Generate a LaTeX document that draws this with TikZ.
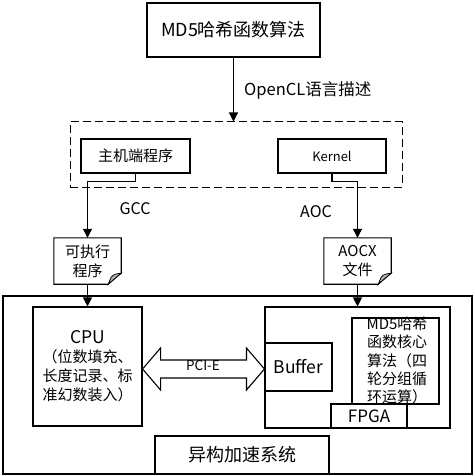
\documentclass[tikz,border=0pt]{standalone}
\usepackage{fontspec}
\setmainfont{Noto Sans CJK SC}
\usetikzlibrary{calc,arrows.meta}
\newcommand{\fsz}[2]{\fontsize{#1}{#2}\selectfont}
\begin{document}
\begin{tikzpicture}[x=1pt,y=-1pt,
  box/.style={draw, line width=1.1pt, inner sep=0pt, align=center},
  conn/.style={line width=1.1pt, -{Triangle[length=9pt,width=9pt]}},
  lbl/.style={inner sep=0pt},
  docline/.style={line width=1.1pt},
  fold/.style={line width=0.8pt, fill=gray!55}]
\useasboundingbox (0,0) rectangle (474,476);
% top
\node[box, minimum width=173pt, minimum height=54pt, font=\fsz{18}{22}] (title) at (233.5,30) {MD5哈希函数算法};
\node[draw, line width=1pt, dash pattern=on 8pt off 4pt, minimum width=332pt, minimum height=65pt, inner sep=0pt] (group) at (236,154.5) {};
\node[box, minimum width=109pt, minimum height=34pt, font=\fsz{15}{18}] (host) at (135.5,156) {主机端程序};
\node[box, minimum width=108pt, minimum height=34pt, font=\fsz{13}{15}] (kernel) at (332,156) {Kernel};
\draw[conn] (title.south) -- (title.south |- group.north);
\node[lbl, anchor=west, font=\fsz{16.5}{19}] (opencl) at (244,90) {OpenCL语言描述};
% documents
\node[lbl, minimum width=67pt, minimum height=46pt, align=center, font=\fsz{15}{19}] (doc1) at (87.5,261) {可执行\\程序};
\node[lbl, minimum width=67pt, minimum height=46pt, align=center, font=\fsz{15}{19}] (doc2) at (357.5,261) {AOCX\\文件};
\foreach \d in {doc1,doc2}{
  \draw[docline] (\d.north west) -- (\d.north east) -- ($(\d.south east)+(0,-11)$)
     .. controls ($(\d.south east)+(-5,-7)$) .. ($(\d.south east)+(-13,0)$) -- (\d.south west) -- cycle;
  \draw[fold] ($(\d.south east)+(0,-11)$) .. controls ($(\d.south east)+(-7,-10)$) .. ($(\d.south east)+(-10,-7)$)
     .. controls ($(\d.south east)+(-12,-3)$) .. ($(\d.south east)+(-13,0)$)
     .. controls ($(\d.south east)+(-5,-7)$) .. cycle;
}
\draw[conn] (host.south) -- ++(0,8) -| (doc1.north);
\draw[conn] (kernel.south) -- ++(0,8) -| (doc2.north);
\node[lbl, font=\fsz{16}{18}] (gcc) at (135,209) {GCC};
\node[lbl, font=\fsz{16}{18}] (aoc) at (316,212) {AOC};
% system
\node[box, minimum width=469pt, minimum height=178pt] (sys) at (237.5,385) {};
\node[box, minimum width=109pt, minimum height=119pt, font=\fsz{15}{19}] (cpu) at (87.5,366.5)
  {{\fsz{17.5}{20}CPU}\\（位数填充、\\长度记录、标\\准幻数装入）};
\node[box, minimum width=185pt, minimum height=121pt] (fpgabox) at (357.5,367.5) {};
\node[box, minimum width=67pt, minimum height=48pt, font=\fsz{17.5}{20}] (buffer) at (298.5,367) {Buffer};
\node[box, minimum width=87pt, minimum height=86pt] (core) at (395.5,361) {};
\node[box, minimum width=76pt, minimum height=24pt, font=\fsz{17}{20}] (fpga) at (369,416) {FPGA};
\node[lbl, align=center, font=\fsz{15}{18.25}] (coretext) at (397,360.5) {MD5哈希\\函数核心\\算法（四\\轮分组循\\环运算）};
\node[box, minimum width=174pt, minimum height=38pt, font=\fsz{18}{22}] (syslbl) at (242,455) {异构加速系统};
\draw[conn] (doc1.south) -- (cpu.north);
\draw[conn] (doc2.south) -- (fpgabox.north);
% PCI-E double arrow
\coordinate (L) at (cpu.east |- 0,369);
\coordinate (R) at (buffer.west |- 0,369);
\draw[line width=1.1pt, fill=white] (L) -- ++(18,-21) -- ++(0,12) -- ($(R)+(-18,-9)$) -- ++(0,-12) -- (R)
  -- ++(-18,21) -- ++(0,-12) -- ($(L)+(18,9)$) -- ++(0,12) -- cycle;
\node[lbl, font=\fsz{13.5}{16}] (pcie) at (203,366) {PCI-E};
\end{tikzpicture}
\end{document}
